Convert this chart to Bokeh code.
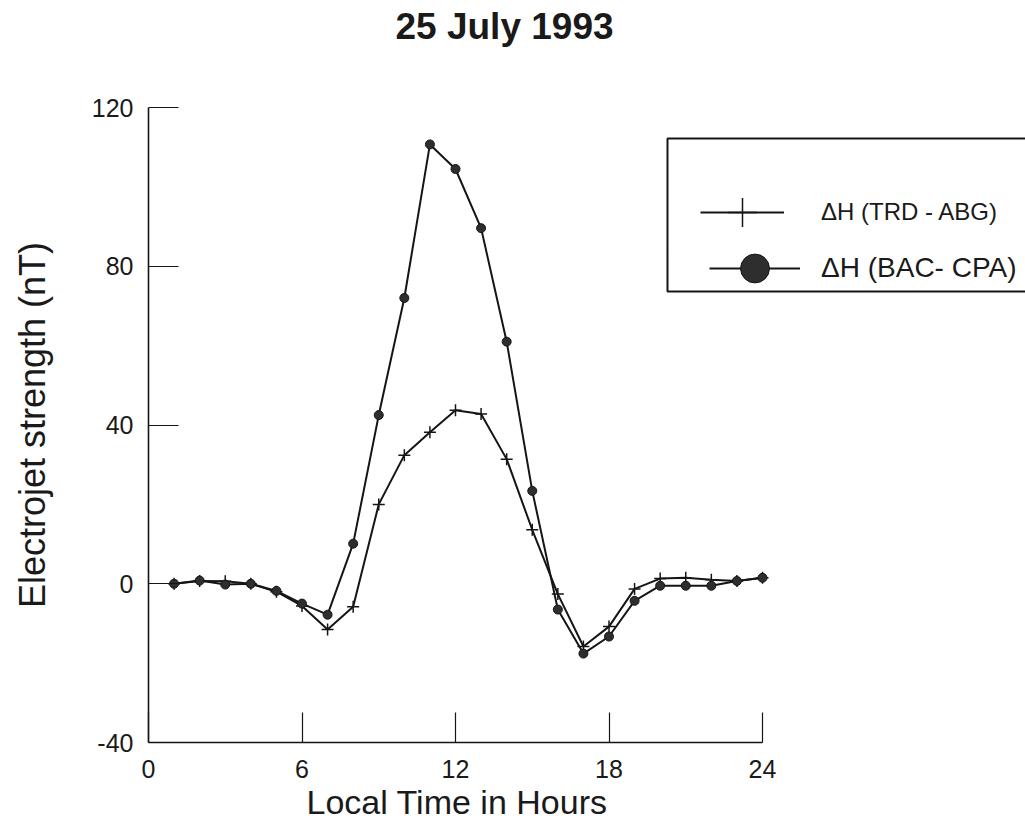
from bokeh.plotting import figure
from bokeh.models import Range1d, LinearAxis, FixedTicker, Legend, LegendItem, BoxAnnotation, Title
from bokeh.embed import file_html
from bokeh.resources import INLINE

# ---- data ----
hours = list(range(1, 25))
trd_abg = [0, 0.7, 0.6, 0, -2, -5.6, -11.5, -5.8, 20, 32.4, 38.2, 43.7,
           42.8, 31.4, 13.6, -2.6, -15.8, -10.8, -1.3, 1.3, 1.5, 1.0, 0.7, 1.5]
bac_cpa = [0, 0.8, -0.2, 0, -1.8, -5.0, -7.8, 10.1, 42.5, 72, 110.7, 104.5,
           89.6, 61, 23.4, -6.5, -17.6, -13.3, -4.3, -0.5, -0.5, -0.5, 0.7, 1.5]
x_ticks = [0, 6, 12, 18, 24]
y_ticks = [-40, 0, 40, 80, 120]
title_text = "25 July 1993"
x_label = "Local Time in Hours"
y_label = "Electrojet strength (nT)"
series_labels = ["\u0394H (TRD - ABG)", "\u0394H (BAC- CPA)"]

FONT = "Liberation Sans"
INK = "#151515"
TXT = "#1a1a1a"

p = figure(width=1025, height=824, output_backend="svg", toolbar_location=None,
           x_range=Range1d(0, 34.28), y_range=Range1d(-40, 120),
           x_axis_location=None, y_axis_location=None,
           min_border_left=148, min_border_right=0, min_border_top=107, min_border_bottom=82)
p.outline_line_color = None
p.grid.visible = False
p.background_fill_color = "white"

# visible title (outer panel) pushed to the top by a white spacer panel next to the frame
p.title.text = title_text
p.title.align = "left"
p.title.vertical_align = "bottom"
p.title.offset = 247
p.title.standoff = 0
p.title.text_font = FONT
p.title.text_font_size = "37px"
p.title.text_font_style = "bold"
p.title.text_color = TXT
spacer = Title(text="I", text_font_size="4px", standoff=54, text_color="white", text_alpha=1.0)
p.add_layout(spacer, "above")

# axes
xaxis = LinearAxis(bounds=(0, 24), ticker=FixedTicker(ticks=x_ticks))
yaxis = LinearAxis(bounds=(-40, 120), ticker=FixedTicker(ticks=y_ticks), axis_label=y_label,
                   major_label_overrides={-40: "-40"})
for ax in (xaxis, yaxis):
    ax.minor_tick_line_color = None
    ax.major_tick_in = 30
    ax.major_tick_out = 0
    ax.axis_line_width = 1.6
    ax.axis_line_color = INK
    ax.major_tick_line_color = INK
    ax.major_tick_line_width = 1.2
    ax.major_label_text_font = FONT
    ax.major_label_text_font_size = "25px"
    ax.major_label_text_color = TXT
    ax.axis_label_text_font = FONT
    ax.axis_label_text_font_style = "normal"
    ax.axis_label_text_color = TXT
xaxis.major_label_standoff = 17
yaxis.major_label_standoff = 15
yaxis.axis_label_standoff = 36
yaxis.axis_label_text_font_size = "36px"
p.add_layout(xaxis, "below")
p.add_layout(yaxis, "left")

# x-axis label as a bottom title so it can sit under the 0-24 span
xlab = Title(text=x_label, align="left", offset=158, standoff=0,
             text_font=FONT, text_font_size="34px", text_font_style="normal", text_color=TXT)
p.add_layout(xlab, "below")

# series
r1l = p.line(hours, trd_abg, line_color=INK, line_width=2)
r1m = p.scatter(hours, trd_abg, marker="cross", size=12, line_color=INK, line_width=1.5)
r2l = p.line(hours, bac_cpa, line_color=INK, line_width=2)
r2m = p.scatter(hours, bac_cpa, marker="circle", size=9, fill_color="#2e2e2e", line_color=INK)

# legend frame (screen units relative to plot frame)
box = BoxAnnotation(left=519, right=900, top=604, bottom=451,
                    left_units="screen", right_units="screen", top_units="screen", bottom_units="screen",
                    fill_alpha=0, fill_color=None, line_color=INK, line_alpha=1.0, line_width=2)
p.add_layout(box)

common = dict(orientation="vertical", padding=0, margin=0, spacing=0, glyph_height=72,
              label_text_font=FONT, label_text_color=TXT,
              border_line_color=None, background_fill_alpha=0)
leg1 = Legend(items=[LegendItem(label=series_labels[0], renderers=[r1l, r1m])],
              location=(552, 494), glyph_width=84, label_standoff=37,
              label_text_font_size="24px", **common)
leg2 = Legend(items=[LegendItem(label=series_labels[1], renderers=[r2l, r2m])],
              location=(561, 438), glyph_width=91, label_standoff=21,
              label_text_font_size="28px", **common)
p.add_layout(leg1)
p.add_layout(leg2)

open("out.html", "w").write(file_html(p, INLINE))
